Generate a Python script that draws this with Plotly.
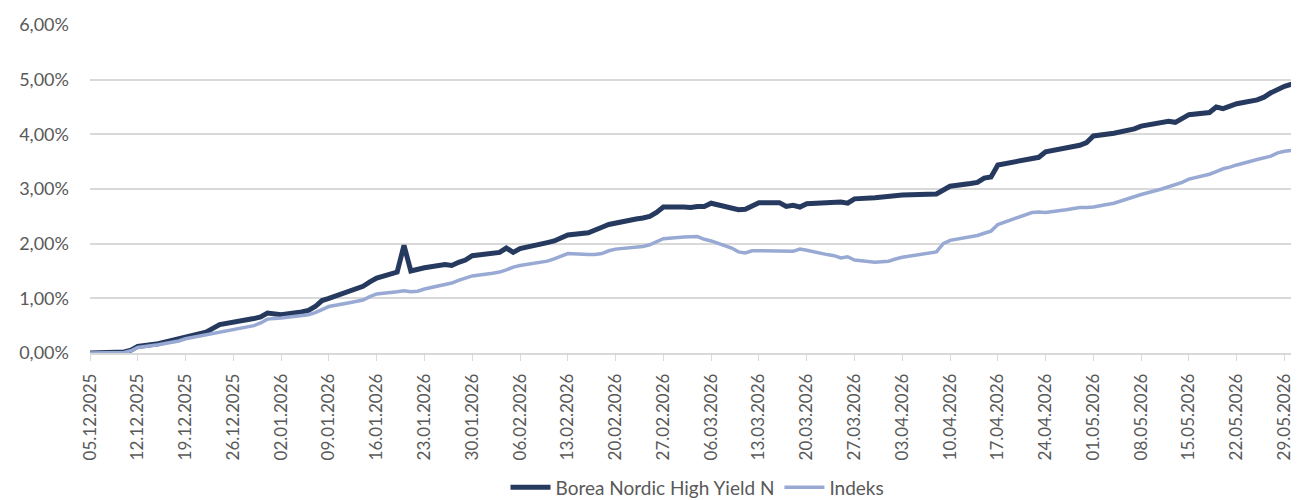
import plotly.graph_objects as go

dates = [
  "2025-12-05", "2025-12-08", "2025-12-09", "2025-12-10", "2025-12-11", "2025-12-12",
  "2025-12-15", "2025-12-16", "2025-12-17", "2025-12-18", "2025-12-19",
  "2025-12-22", "2025-12-23", "2025-12-24", "2025-12-29", "2025-12-30", "2025-12-31",
  "2026-01-02", "2026-01-05", "2026-01-06", "2026-01-07", "2026-01-08", "2026-01-09",
  "2026-01-12", "2026-01-13", "2026-01-14", "2026-01-15", "2026-01-16",
  "2026-01-19", "2026-01-20", "2026-01-21", "2026-01-22", "2026-01-23",
  "2026-01-26", "2026-01-27", "2026-01-28", "2026-01-29", "2026-01-30",
  "2026-02-02", "2026-02-03", "2026-02-04", "2026-02-05", "2026-02-06",
  "2026-02-09", "2026-02-10", "2026-02-11", "2026-02-12", "2026-02-13",
  "2026-02-16", "2026-02-17", "2026-02-18", "2026-02-19", "2026-02-20",
  "2026-02-23", "2026-02-24", "2026-02-25", "2026-02-26", "2026-02-27",
  "2026-03-02", "2026-03-03", "2026-03-04", "2026-03-05", "2026-03-06",
  "2026-03-09", "2026-03-10", "2026-03-11", "2026-03-12", "2026-03-13",
  "2026-03-16", "2026-03-17", "2026-03-18", "2026-03-19", "2026-03-20",
  "2026-03-23", "2026-03-24", "2026-03-25", "2026-03-26", "2026-03-27",
  "2026-03-30", "2026-03-31", "2026-04-01", "2026-04-02", "2026-04-03",
  "2026-04-08", "2026-04-09", "2026-04-10",
  "2026-04-13", "2026-04-14", "2026-04-15", "2026-04-16", "2026-04-17",
  "2026-04-20", "2026-04-21", "2026-04-22", "2026-04-23", "2026-04-24",
  "2026-04-27", "2026-04-28", "2026-04-29", "2026-04-30", "2026-05-01",
  "2026-05-04", "2026-05-05", "2026-05-06", "2026-05-07", "2026-05-08",
  "2026-05-11", "2026-05-12", "2026-05-13", "2026-05-14", "2026-05-15",
  "2026-05-18", "2026-05-19", "2026-05-20", "2026-05-21", "2026-05-22",
  "2026-05-25", "2026-05-26", "2026-05-27", "2026-05-28", "2026-05-29",
  "2026-06-01",
]

# avkastning i prosent
borea = [
  0.00, 0.00, 0.00, 0.02, 0.05, 0.12,
  0.17, 0.20, 0.25, 0.26, 0.30,
  0.38, 0.45, 0.52, 0.63, 0.66, 0.73,
  0.70, 0.75, 0.78, 0.85, 0.96, 1.00,
  1.12, 1.17, 1.22, 1.30, 1.37,
  1.48, 1.97, 1.50, 1.53, 1.56,
  1.62, 1.60, 1.66, 1.70, 1.78,
  1.82, 1.84, 1.92, 1.84, 1.91,
  1.98, 2.02, 2.05, 2.10, 2.16,
  2.20, 2.24, 2.30, 2.35, 2.38,
  2.45, 2.47, 2.50, 2.57, 2.67,
  2.67, 2.66, 2.68, 2.68, 2.74,
  2.65, 2.62, 2.63, 2.70, 2.75,
  2.75, 2.68, 2.70, 2.67, 2.73,
  2.75, 2.75, 2.76, 2.74, 2.82,
  2.84, 2.85, 2.88, 2.88, 2.89,
  2.91, 2.97, 3.05,
  3.10, 3.12, 3.20, 3.22, 3.44,
  3.50, 3.52, 3.55, 3.58, 3.68,
  3.75, 3.78, 3.80, 3.85, 3.97,
  4.02, 4.04, 4.06, 4.10, 4.15,
  4.22, 4.24, 4.22, 4.30, 4.36,
  4.40, 4.50, 4.47, 4.52, 4.56,
  4.63, 4.68, 4.76, 4.83, 4.88,
  4.99,
]

indeks = [
  0.00, 0.01, 0.02, 0.01, 0.04, 0.10,
  0.15, 0.17, 0.20, 0.22, 0.26,
  0.33, 0.36, 0.38, 0.50, 0.55, 0.62,
  0.64, 0.68, 0.70, 0.74, 0.80, 0.85,
  0.92, 0.95, 0.97, 1.03, 1.08,
  1.12, 1.14, 1.12, 1.13, 1.17,
  1.26, 1.28, 1.33, 1.37, 1.41,
  1.46, 1.48, 1.52, 1.57, 1.60,
  1.66, 1.68, 1.72, 1.77, 1.82,
  1.80, 1.80, 1.82, 1.87, 1.90,
  1.93, 1.95, 1.98, 2.03, 2.09,
  2.12, 2.12, 2.13, 2.08, 2.05,
  1.92, 1.85, 1.83, 1.87, 1.87,
  1.87, 1.87, 1.86, 1.90, 1.88,
  1.80, 1.78, 1.74, 1.76, 1.70,
  1.66, 1.67, 1.68, 1.72, 1.75,
  1.85, 2.00, 2.06,
  2.12, 2.15, 2.19, 2.23, 2.35,
  2.48, 2.52, 2.57, 2.58, 2.57,
  2.62, 2.64, 2.66, 2.66, 2.67,
  2.74, 2.78, 2.82, 2.86, 2.90,
  3.00, 3.04, 3.07, 3.12, 3.18,
  3.27, 3.32, 3.37, 3.40, 3.44,
  3.54, 3.57, 3.60, 3.66, 3.69,
  3.73,
]

tick_dates = [
  "2025-12-05", "2025-12-12", "2025-12-19", "2025-12-26", "2026-01-02",
  "2026-01-09", "2026-01-16", "2026-01-23", "2026-01-30", "2026-02-06",
  "2026-02-13", "2026-02-20", "2026-02-27", "2026-03-06", "2026-03-13",
  "2026-03-20", "2026-03-27", "2026-04-03", "2026-04-10", "2026-04-17",
  "2026-04-24", "2026-05-01", "2026-05-08", "2026-05-15", "2026-05-22",
  "2026-05-29",
]
tick_text = [d[8:10] + "." + d[5:7] + "." + d[0:4] for d in tick_dates]

font = "Lato, 'Open Sans', sans-serif"

fig = go.Figure()
fig.add_trace(go.Scatter(x=dates, y=borea, mode="lines", name="Borea Nordic High Yield N",
                         line=dict(color="#26395F", width=5)))
fig.add_trace(go.Scatter(x=dates, y=indeks, mode="lines", name="Indeks",
                         line=dict(color="#98AAD3", width=3.5)))

fig.update_layout(width=1299,
                  height=500,
                  margin=dict(l=82, r=2, t=17, b=147),
                  paper_bgcolor="white",
                  plot_bgcolor="white",
                  font=dict(family=font, color="#595959", size=18),
                  separators=", ",
                  legend=dict(orientation="h", x=0.5, xanchor="center", y=-0.41, yanchor="middle",
                              font=dict(size=19, color="#595959"), itemwidth=40,
                              traceorder="normal"))
fig.update_xaxes(type="date",
                 range=["2025-12-05", "2026-06-01"],
                 tickvals=tick_dates,
                 ticktext=tick_text,
                 tickangle=-90,
                 ticks="outside", ticklen=6, tickcolor="#D9D9D9",
                 showline=True, linecolor="#D9D9D9", linewidth=1.5,
                 showgrid=False, zeroline=False,
                 ticklabelstandoff=6,
                 tickfont=dict(size=17, color="#595959"))
fig.update_yaxes(range=[0, 6], dtick=1,
                 tickformat=".2f", ticksuffix="%",
                 showgrid=True, gridcolor="#D9D9D9", gridwidth=1.5,
                 zeroline=False, showline=False,
                 ticklabelstandoff=20,
                 tickfont=dict(size=18, color="#595959"))

fig.write_html("out.html")
